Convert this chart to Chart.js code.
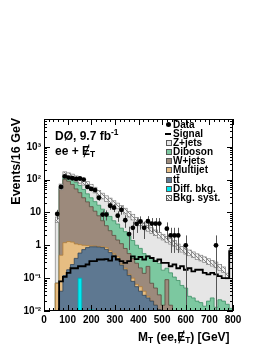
<!DOCTYPE html>
<html>
<head>
<meta charset="utf-8">
<script src="https://cdn.jsdelivr.net/npm/chart.js@4.4.1/dist/chart.umd.min.js"></script>
<style>
body { margin: 0; background: #fff; }
#wrap { position: relative; width: 266px; height: 344px; font-family: "Liberation Sans", Arial, sans-serif; font-weight: bold; color: #000; }
canvas { position: absolute; left: 0; top: 0; }
.txt { position: absolute; white-space: nowrap; line-height: 1; }
.met { position: relative; display: inline-block; }
.met::after { content: ''; position: absolute; left: 45%; top: -1px; width: 1.3px; height: 115%; background: #000; transform: rotate(22deg); }
sub { font-size: 70%; vertical-align: -0.25em; }
sup { font-size: 70%; vertical-align: 0.55em; }
#legend { position: absolute; left: 166px; top: 120px; font-size: 10px; }
#legend .row { position: relative; height: 9.1px; line-height: 9.1px; padding-left: 7px; white-space: nowrap; }
#legend .sw { position: absolute; left: 0; top: 2px; width: 4px; height: 4px; border: 0.8px solid #555; }
</style>
</head>
<body>
<div id="wrap">
  <canvas id="chart" width="266" height="344"></canvas>
  <div class="txt" style="left:-34px; top:155px; width:100px; text-align:center; font-size:12.5px; transform:rotate(-90deg);">Events/16 GeV</div>
  <div class="txt" style="left:138px; top:331px; font-size:12px;">M<sub>T</sub> (ee,<span class="met">E</span><sub>T</sub>) [GeV]</div>
  <div class="txt" style="left:55px; top:128px; font-size:12px;">DØ, 9.7 fb<sup>-1</sup></div>
  <div class="txt" style="left:55px; top:145px; font-size:12px;">ee + <span class="met">E</span><sub>T</sub></div>
  <div id="legend"></div>
</div>
<script>
// bins of 16 GeV from 0 to 800 (last bin includes overflow)
const binWidth = 16
const nBins = 50

// background components, events per bin
const diffBkg = [0,0,0,0,0,0,0,0,0,0.1,0,0,0.011,0,0,0,0,0,0,0,0,0,0,0,0,0,0,0,0,0,0,0,0,0,0,0,0,0,0,0,0,0,0,0,0,0,0,0,0,0]
const ttbar = [0,0,0,0,0.04,0.12,0.18,0.26,0.40,0.48,0.74,0.85,0.89,0.90,0.88,0.85,0.75,0.60,0.50,0.40,0.25,0.18,0.12,0.08,0.055,0.04,0.03,0.025,0.02,0.015,0.011,0,0,0,0,0,0,0,0,0,0,0,0,0,0,0,0,0,0,0]
const multijet = [0,0,0,0.07,0.46,1.08,1.12,0.99,0.70,0.47,0.26,0.13,0.06,0.05,0.04,0.05,0.10,0.08,0.05,0.05,0.02,0.02,0.01,0.02,0.01,0.015,0.01,0.003,0,0,0,0,0,0,0,0,0,0,0,0,0,0,0,0,0,0,0,0,0,0]
const wjets = [0,0,0,0,52,99,88,70,51,39,27,20,14,10,7,4.7,3.1,2.1,1.45,1.0,0.85,0.6,0.43,0.3,0.22,0.15,0.1,0.2,0.05,0.035,0.02,0.015,0.09,0.015,0.008,0.005,0,0,0,0,0,0,0,0,0,0,0,0,0,0]
const diboson = [0,0,0,0,3.5,35,28,29,30,26,22,16,13,10.4,8.7,7,6,4.8,3.6,3.0,2.2,1.8,1.4,1.0,0.72,0.6,0.42,0.25,0.33,0.3,0.25,0.16,0.11,0.13,0.1,0.08,0.06,0.05,0.028,0.025,0.02,0.018,0.014,0.02,0.025,0.013,0.022,0.02,0.016,0.012]
const zjets = [0,0,0,5.9,4,6,14,20,24,29,33,34,31,26.6,21.4,19,16.3,14.8,13,11.3,9.9,8.4,6.9,5.8,4.75,4.0,3.4,2.8,2.4,2.05,1.76,1.6,1.31,1.18,1.04,0.81,0.7,0.61,0.56,0.49,0.43,0.39,0.35,0.30,0.26,0.24,0.19,0.16,0.1,0.64]
const signal = [0,0,0,0,0.08,0.11,0.145,0.2,0.2,0.23,0.23,0.26,0.33,0.33,0.37,0.37,0.38,0.34,0.46,0.37,0.33,0.29,0.33,0.46,0.38,0.44,0.37,0.46,0.41,0.33,0.37,0.29,0.29,0.23,0.26,0.2,0.23,0.18,0.2,0.16,0.18,0.18,0.145,0.13,0.145,0.13,0.115,0.10,0.10,0.66]
const observed = [0,0,0,9,60,125,115,110,105,108,100,60,52,48,28,8.6,8.6,16,14,8,12,5.8,2.2,3.4,4.5,5.3,3.4,5.4,4.6,4.6,4.6,0,3.2,2,2,2,0,1,0,0,0,0,0,0,0,1,0,0,0,0]
const systFrac = 0.22

const yTickLabels = {'-2': '10⁻²', '-1': '10⁻¹', '0': '1', '1': '10', '2': '10²', '3': '10³'}

const fontFam = '"Liberation Sans", Arial, sans-serif'

// cumulative stack, bottom to top
function addUp(a, b) { return a.map((v, i) => v + b[i]) }
const cumDiff = diffBkg
const cumTt = addUp(cumDiff, ttbar)
const cumMj = addUp(cumTt, multijet)
const cumW = addUp(cumMj, wjets)
const cumDb = addUp(cumW, diboson)
const cumZ = addUp(cumDb, zjets)

function histPoints(vals) {
  let pts = vals.map((v, i) => ({x: i * binWidth, y: v > 0 ? v : 1e-4}))
  pts.push({x: nBins * binWidth, y: pts[pts.length - 1].y})
  return pts
}
function hist(label, vals, fillCol, lineCol, width) {
  return {
    type: 'line', label: label, data: histPoints(vals), stepped: 'before',
    fill: fillCol ? 'start' : false, backgroundColor: fillCol || 'transparent',
    borderColor: lineCol, borderWidth: width || 0.8, pointRadius: 0
  }
}

let dataPts = []
observed.forEach((v, i) => { if (v > 0) dataPts.push({x: i * binWidth + binWidth / 2, y: v}) })

function makeHatch(ctx) {
  let cv = document.createElement('canvas')
  cv.width = 4; cv.height = 4
  let g = cv.getContext('2d')
  g.fillStyle = '#f4f4f4'
  g.fillRect(0, 0, 4, 4)
  g.strokeStyle = '#7a7a7a'
  g.lineWidth = 0.9
  g.beginPath(); g.moveTo(-1, -1); g.lineTo(5, 5); g.stroke()
  g.beginPath(); g.moveTo(3, -1); g.lineTo(5, 1); g.stroke()
  g.beginPath(); g.moveTo(-1, 3); g.lineTo(1, 5); g.stroke()
  return ctx.createPattern(cv, 'repeat')
}

const datasets = [
  {type: 'scatter', label: 'Data', data: dataPts, pointRadius: 2.4, pointBackgroundColor: '#000', pointBorderWidth: 0, showLine: false},
  hist('Signal', signal, null, '#000', 1.8),
  hist('Diff. bkg.', cumDiff, '#00e8f0', '#00a8b0'),
  hist('tt̄', cumTt, '#5e7891', '#2e4358'),
  hist('Multijet', cumMj, '#e6bd82', '#b07e3a'),
  hist('W+jets', cumW, '#9c8a7c', '#5c4a3e'),
  hist('Diboson', cumDb, '#7cc8a0', '#3d8f65'),
  hist('Z+jets', cumZ, '#e6e6e6', '#8c8c8c')
]

const decorPlugin = {
  id: 'decor',
  beforeDatasetDraw(chart, args) {
    const area = chart.chartArea
    const x = chart.scales.x, y = chart.scales.y
    const c = chart.ctx
    if (args.index === 1) {
      // systematic band on total background, drawn over the stack
      c.save()
      c.beginPath(); c.rect(area.left, area.top, area.right - area.left, area.bottom - area.top); c.clip()
      const hatch = makeHatch(c)
      cumZ.forEach((t, i) => {
        if (t <= 0) return
        const x0 = x.getPixelForValue(i * binWidth), x1 = x.getPixelForValue((i + 1) * binWidth)
        const y0 = y.getPixelForValue(t * (1 + systFrac)), y1 = y.getPixelForValue(t / (1 + systFrac))
        c.fillStyle = hatch
        c.fillRect(x0, y0, x1 - x0, y1 - y0)
        c.strokeStyle = '#808080'; c.lineWidth = 0.7
        c.strokeRect(x0, y0, x1 - x0, y1 - y0)
      })
      c.restore()
    }
    if (args.index === 0) {
      // error bars on data
      c.save()
      c.beginPath(); c.rect(area.left, area.top, area.right - area.left, area.bottom - area.top); c.clip()
      c.strokeStyle = '#555'; c.lineWidth = 1
      observed.forEach((v, i) => {
        if (v <= 0) return
        const e = Math.sqrt(v)
        const px = Math.round(x.getPixelForValue(i * binWidth + binWidth / 2)) + 0.5
        const top = y.getPixelForValue(v + e)
        const bot = v - e > 0 ? y.getPixelForValue(v - e) : area.bottom
        c.beginPath(); c.moveTo(px, top); c.lineTo(px, bot); c.stroke()
      })
      c.restore()
    }
  },
  afterDraw(chart) {
    const area = chart.chartArea
    const x = chart.scales.x, y = chart.scales.y
    const c = chart.ctx
    c.save()
    c.strokeStyle = '#000'; c.lineWidth = 1
    c.strokeRect(area.left + 0.5, area.top + 0.5, area.right - area.left - 1, area.bottom - area.top - 1)
    c.beginPath()
    for (let v = 0; v <= 800; v += 20) {
      const px = Math.round(x.getPixelForValue(v)) + 0.5
      const len = v % 100 === 0 ? 6 : 3
      c.moveTo(px, area.bottom); c.lineTo(px, area.bottom - len)
      c.moveTo(px, area.top); c.lineTo(px, area.top + len)
    }
    for (let d = -2; d <= 3; d++) {
      for (let k = 1; k <= 9; k++) {
        const v = k * Math.pow(10, d)
        if (v > y.max) break
        const py = Math.round(y.getPixelForValue(v)) + 0.5
        const len = k === 1 ? 6 : 3
        c.moveTo(area.left, py); c.lineTo(area.left + len, py)
        c.moveTo(area.right, py); c.lineTo(area.right - len, py)
      }
    }
    c.stroke()
    c.restore()
  }
}

new Chart(document.getElementById('chart'), {
  type: 'line',
  data: {datasets: datasets},
  options: {
    responsive: false,
    animation: false,
    layout: {padding: {top: 119, right: 33, left: 0, bottom: 0}},
    plugins: {legend: {display: false}, tooltip: {enabled: false}},
    scales: {
      x: {
        type: 'linear', min: 0, max: 800,
        grid: {display: false, drawTicks: false}, border: {display: false},
        ticks: {stepSize: 100, autoSkip: false, maxRotation: 0, padding: 3, color: '#000', font: {family: fontFam, weight: 'bold', size: 10}},
        afterFit(s) { s.height = 33 }
      },
      y: {
        type: 'logarithmic', min: 0.01, max: 7000,
        grid: {display: false, drawTicks: false}, border: {display: false},
        ticks: {
          autoSkip: false, padding: 3, color: '#000', font: {family: fontFam, weight: 'bold', size: 10},
          callback(v) {
            const l = Math.log10(v)
            if (Math.abs(l - Math.round(l)) > 1e-6) return ''
            return yTickLabels[String(Math.round(l))] || ''
          }
        },
        afterFit(s) { s.width = 44 }
      }
    }
  },
  plugins: [decorPlugin]
})

// legend
const legendItems = [
  ['Data', 'dot'], ['Signal', 'line'], ['Z+jets', '#e6e6e6'], ['Diboson', '#7cc8a0'],
  ['W+jets', '#9c8a7c'], ['Multijet', '#e6bd82'], ['tt̄', '#5e7891'], ['Diff. bkg.', '#00e8f0'], ['Bkg. syst.', 'hatch']
]
let legend = document.getElementById('legend')
legendItems.forEach(item => {
  let row = document.createElement('div')
  row.className = 'row'
  let sw = document.createElement('span')
  sw.className = 'sw'
  if (item[1] === 'dot') {
    sw.style.cssText = 'border:none;width:5px;height:5px;border-radius:50%;background:#000;left:0;top:2px;'
  } else if (item[1] === 'line') {
    sw.style.cssText = 'border:none;width:6px;height:2px;background:#000;left:-1px;top:4px;'
  } else if (item[1] === 'hatch') {
    sw.style.background = 'repeating-linear-gradient(45deg,#f4f4f4 0 1.2px,#777 1.2px 2px)'
  } else {
    sw.style.background = item[1]
  }
  row.appendChild(sw)
  row.appendChild(document.createTextNode(item[0]))
  legend.appendChild(row)
})
</script>
</body>
</html>
